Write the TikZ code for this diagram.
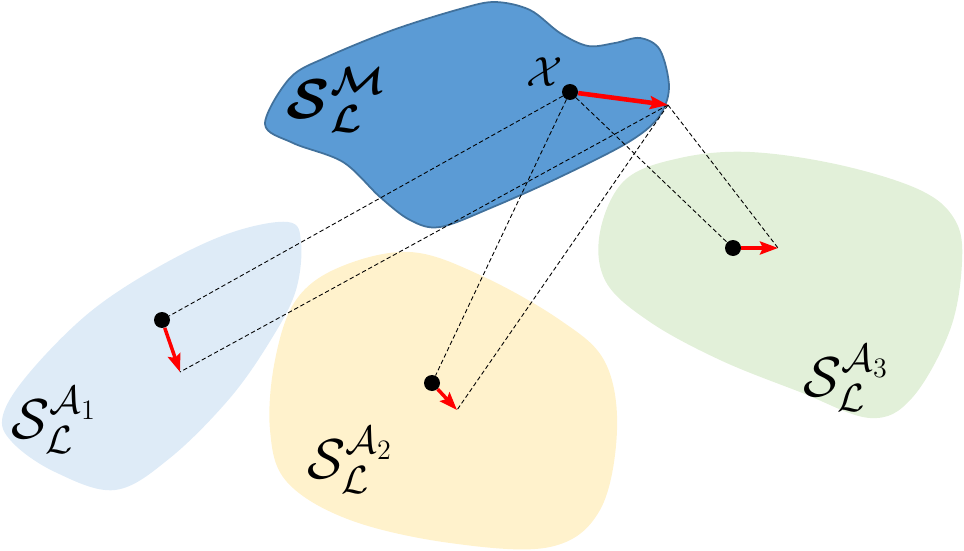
\RequirePackage{fix-cm}
\documentclass[tikz,border=0pt]{standalone}
\usepackage{amsmath}
\usepackage{bm}
\usepackage{tikz}
\usetikzlibrary{arrows, arrows.meta}
\definecolor{mfill}{HTML}{5B9BD5}
\definecolor{mline}{HTML}{41719C}
\definecolor{aonefill}{HTML}{DEEBF7}
\definecolor{atwofill}{HTML}{FFF2CC}
\definecolor{athreefill}{HTML}{E2F0D9}
\tikzstyle{dot} = [circle, fill=black, inner sep=0pt, minimum size=0.32cm]
\tikzstyle{vec} = [line width=2.6pt, red, -{Stealth[length=0.36cm, width=0.26cm, inset=0.06cm]}]
\tikzstyle{proj} = [line width=0.5pt, dash pattern=on 2.5pt off 1.5pt]
\tikzstyle{lab} = [font=\fontsize{32}{38}\selectfont]

\begin{document}
\begin{tikzpicture}[x=0.02cm, y=-0.02cm]
\useasboundingbox (0,0) rectangle (964,551);

% regions
\draw [fill=aonefill, draw=none] plot [smooth cycle, tension=0.6] coordinates {(3,415) (30,372) (90,312) (160,266) (230,233) (288,222) (301,242) (296,290) (272,338) (230,398) (170,458) (115,490) (55,472) (12,442)};
\draw [fill=atwofill, draw=none] plot [smooth cycle, tension=0.6] coordinates {(410,252) (340,267) (296,300) (275,360) (270,430) (287,482) (350,520) (450,543) (550,547) (600,510) (617,430) (605,362) (560,320) (480,275)};
\draw [fill=athreefill, draw=none] plot [smooth cycle, tension=0.6] coordinates {(600,232) (625,180) (680,158) (750,152) (840,165) (920,190) (955,220) (962,262) (950,330) (912,398) (870,418) (800,392) (720,360) (650,322) (606,282)};
\draw [fill=mfill, draw=mline, line width=1pt] plot [smooth cycle, tension=0.55] coordinates {(265,124) (290,78) (327,57) (393,30) (460,9) (495,2) (530,10) (560,33) (588,46) (615,43) (640,38) (660,50) (669,88) (658,118) (627,143) (560,177) (493,207) (440,227) (410,220) (380,197) (343,162) (293,143)};

% points
\node [dot] (xm) at (570,92) {};
\node [dot] (xa1) at (162,320) {};
\node [dot] (xa2) at (432,383) {};
\node [dot] (xa3) at (733,248) {};

\coordinate (tm) at (668,105);
\coordinate (ta1) at (180,372);
\coordinate (ta2) at (457,410);
\coordinate (ta3) at (778,248);

% labels
\node [font=\fontsize{24}{28}\selectfont] (lx) at (545,72) {$\mathcal{X}$};
\node [lab] (lm) at (336,100) {$\boldsymbol{\mathcal{S}}_{\boldsymbol{\mathcal{L}}}^{\boldsymbol{\mathcal{M}}}$};
\node [lab] (la1) at (54,420) {$\mathcal{S}_{\mathcal{L}}^{\mathcal{A}_1}$};
\node [lab] (la2) at (350,460) {$\mathcal{S}_{\mathcal{L}}^{\mathcal{A}_2}$};
\node [lab] (la3) at (846,378) {$\mathcal{S}_{\mathcal{L}}^{\mathcal{A}_3}$};

% projections
\draw [proj] (xm) to (xa1);
\draw [proj] (tm) to (ta1);
\draw [proj] (xm) to (xa2);
\draw [proj] (tm) to (ta2);
\draw [proj] (xm) to (xa3);
\draw [proj] (tm) to (ta3);

\draw [vec] (xm) to (tm);
\draw [vec, line width=2pt] (xa1) to (ta1);
\draw [vec, line width=2pt] (xa2) to (ta2);
\draw [vec, line width=2pt] (xa3) to (ta3);
\end{tikzpicture}
\end{document}
